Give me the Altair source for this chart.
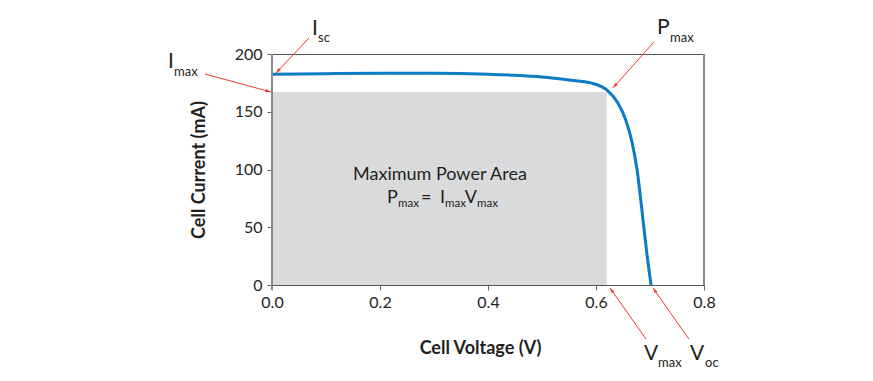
import math
import altair as alt
import pandas as pd

# ---- data ----
voltage = [0.0, 0.1, 0.2, 0.3, 0.4, 0.45, 0.5, 0.55, 0.59, 0.62, 0.64, 0.655, 0.667, 0.676, 0.685, 0.694, 0.702]
current = [182.5, 183.0, 183.3, 183.3, 182.5, 181.5, 180.0, 177.5, 175.0, 169.0, 158.0, 143.0, 123.0, 100.0, 65.0, 28.0, 0.0]

v_max = 0.62
i_max = 167

x_ticks = [0.0, 0.2, 0.4, 0.6, 0.8]
y_ticks = [0, 50, 100, 150, 200]

# annotation labels (big letter + subscript)
lab_big = ["I", "I", "P", "V", "V"]
lab_big_v = [0.074, -0.1926, 0.713, 0.689, 0.774]
lab_big_i = [216.5, 187.9, 217.3, -64.9, -64.9]
lab_sub = ["sc", "max", "max", "max", "oc"]
lab_sub_v = [0.0852, -0.1815, 0.737, 0.715, 0.8019]
lab_sub_i = [210.4, 181.0, 210.4, -71.0, -71.0]

# arrows (tail -> tip)
arr_tail_v = [0.0685, -0.124, 0.7074, 0.6926, 0.772]
arr_tail_i = [213.9, 182.7, 210.4, -46.8, -46.8]
arr_tip_v = [0.0074, -0.002, 0.6315, 0.626, 0.7056]
arr_tip_i = [183.5, 167.1, 170.6, -2.6, -2.6]

# center text
title_text = ["Maximum Power Area"]
title_v = [0.311]
title_i = [90.9]
f_big = ["P", "=", "I", "V"]
f_big_v = [0.213, 0.276, 0.311, 0.357]
f_big_i = [71.0, 71.0, 71.0, 71.0]
f_sub = ["max", "max", "max"]
f_sub_v = [0.2333, 0.3203, 0.3796]
f_sub_i = [67.5, 67.5, 67.5]

W, H = 432, 231
FONT = "Lato"
RED = "#ee3a2c"

xs = alt.Scale(domain=[0, 0.8], nice=False)
ys = alt.Scale(domain=[0, 200], nice=False)

curve = pd.DataFrame({"v": voltage, "i": current})
area = pd.DataFrame({"v0": [0.0], "v1": [v_max], "i0": [0], "i1": [i_max]})

px_v = W / 0.8
px_i = H / 200.0
angles = []
for tv, ti, hv, hi in zip(arr_tail_v, arr_tail_i, arr_tip_v, arr_tip_i):
    dx = (hv - tv) * px_v
    dy = -(hi - ti) * px_i
    angles.append(math.degrees(math.atan2(dx, -dy)) % 360)
arrows = pd.DataFrame({"tv": arr_tail_v, "ti": arr_tail_i, "hv": arr_tip_v, "hi": arr_tip_i, "ang": angles})

rect = alt.Chart(area).mark_rect(color="#d9dadc").encode(
    x=alt.X("v0:Q", scale=xs, axis=alt.Axis(values=x_ticks, format=".1f", title="Cell Voltage (V)")),
    x2="v1:Q",
    y=alt.Y("i0:Q", scale=ys, axis=alt.Axis(values=y_ticks, title="Cell Current (mA)")),
    y2="i1:Q",
)

line = alt.Chart(curve).mark_line(color="#0a7cc4", strokeWidth=3, interpolate="monotone").encode(
    x=alt.X("v:Q", scale=xs), y=alt.Y("i:Q", scale=ys)
)

right_border = alt.Chart(pd.DataFrame({"v": [0.8]})).mark_rule(color="#8a8a8a", strokeWidth=2).encode(
    x=alt.X("v:Q", scale=xs), y=alt.value(0), y2=alt.value(H)
)
left_border = alt.Chart(pd.DataFrame({"v": [0.0]})).mark_rule(color="#8a8a8a", strokeWidth=2).encode(
    x=alt.X("v:Q", scale=xs), y=alt.value(0), y2=alt.value(H + 5)
)

arrow_lines = alt.Chart(arrows).mark_rule(color=RED, strokeWidth=1).encode(
    x=alt.X("tv:Q", scale=xs), y=alt.Y("ti:Q", scale=ys), x2="hv:Q", y2="hi:Q"
)
arrow_heads = alt.Chart(arrows).mark_point(
    shape="M0,0L-0.38,1.3L0.38,1.3Z", filled=True, color=RED, opacity=1, size=70
).encode(
    x=alt.X("hv:Q", scale=xs), y=alt.Y("hi:Q", scale=ys), angle=alt.Angle("ang:Q", scale=None)
)

def text_layer(txt, vv, ii, size, align="left"):
    df = pd.DataFrame({"t": txt, "v": vv, "i": ii})
    return alt.Chart(df).mark_text(
        font=FONT, fontSize=size, color="#231f20", align=align, baseline="alphabetic"
    ).encode(x=alt.X("v:Q", scale=xs), y=alt.Y("i:Q", scale=ys), text="t:N")

labels_big = text_layer(lab_big, lab_big_v, lab_big_i, 21)
labels_sub = text_layer(lab_sub, lab_sub_v, lab_sub_i, 13)
center_title = text_layer(title_text, title_v, title_i, 18, align="center")
formula_big = text_layer(f_big, f_big_v, f_big_i, 18)
formula_sub = text_layer(f_sub, f_sub_v, f_sub_i, 11.5)

chart = alt.layer(
    rect, line, right_border, left_border, arrow_lines, arrow_heads,
    labels_big, labels_sub, center_title, formula_big, formula_sub
).properties(
    width=W, height=H,
    autosize=alt.AutoSizeParams(type="none"),
    padding={"left": 264, "top": 46, "right": 160, "bottom": 100},
).configure_view(
    stroke="#555555", strokeWidth=1
).configure_axis(
    grid=False,
    labelFont=FONT, labelFontSize=16, labelColor="#231f20",
    titleFont=FONT, titleFontSize=18, titleFontWeight="bold", titleColor="#231f20",
    tickColor="#666666", tickSize=5, domainColor="#555555", labelFlush=False,
).configure_axisX(
    labelPadding=4, titlePadding=29, titleX=208,
).configure_axisY(
    labelPadding=5, titlePadding=26, domain=False,
)

chart.save("out.html", embed_options={"renderer": "svg", "actions": False})
